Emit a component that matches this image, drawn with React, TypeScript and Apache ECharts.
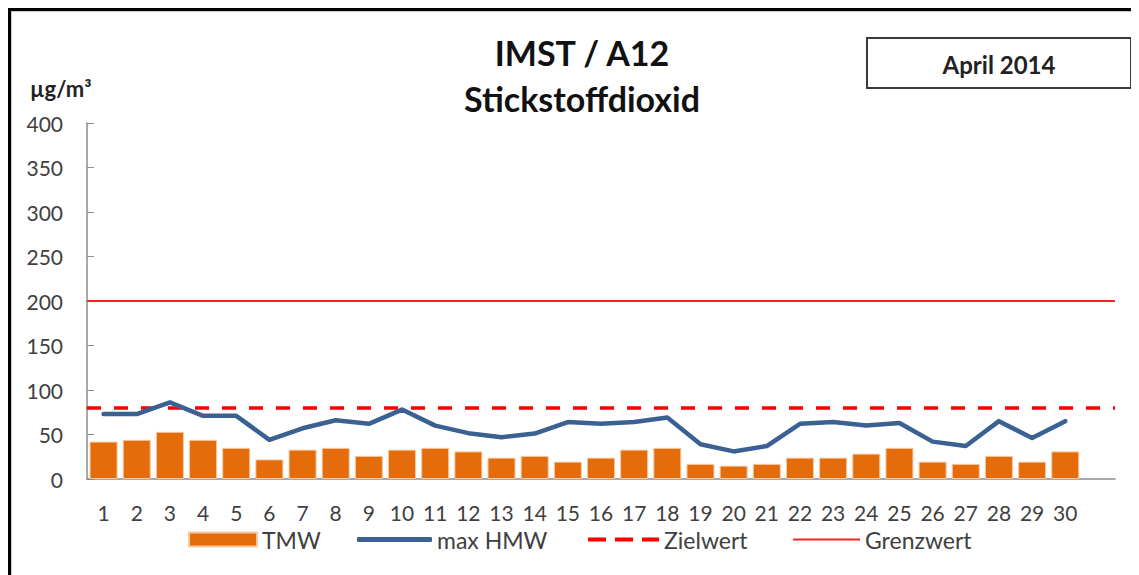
import React, { useEffect, useRef } from "react";
import * as echarts from "echarts";

const days: string[] = ["1","2","3","4","5","6","7","8","9","10","11","12","13","14","15","16","17","18","19","20","21","22","23","24","25","26","27","28","29","30",""];
const tmw: (number | null)[] = [42,44,53,44,35,22,33,35,26,33,35,31,24,26,19.5,24,33,35,17,15,17,24,24,28.5,35,19.5,17,26,19.5,31,null];
const maxHmw: (number | null)[] = [73,73,86,71,71,44,57,66,62,78,60,51.5,47,51,64,62,64,69,39,31,37,62,64,60,63,42,37,65,46,65,null];
const zielwert = 80;
const grenzwert = 200;
const yTicks = { min: 0, max: 400, interval: 50 };
const titleLines = ["IMST / A12", "Stickstoffdioxid"];
const unitLabel = "µg/m³";
const periodLabel = "April 2014";
const seriesNames = ["TMW", "max HMW", "Zielwert", "Grenzwert"];

const FONT = "Lato, 'Open Sans', sans-serif";
const TXT = "#404040";
const ORANGE = "#E46C0A";
const BLUE = "#3A6192";
const RED = "#FF0000";

function legendFor(name: string, left: number, itemWidth: number, itemHeight: number, icon: string) {
  return {
    data: [{ name, icon }],
    left,
    top: 516,
    padding: 0,
    itemWidth,
    itemHeight,
    selectedMode: false,
    textStyle: { fontFamily: FONT, fontSize: 23, lineHeight: 23, color: TXT },
  };
}

export default function App() {
  const ref = useRef<HTMLDivElement>(null);
  useEffect(() => {
    if (!ref.current) return;
    const chart = echarts.init(ref.current, undefined, { renderer: "svg" });
    chart.setOption({
      animation: false,
      backgroundColor: "#fff",
      textStyle: { fontFamily: FONT },
      title: [
        {
          text: titleLines[0],
          left: 565,
          top: 18,
          textAlign: "center",
          textStyle: { fontFamily: FONT, fontWeight: "bold", fontSize: 34, color: "#111" },
        },
        {
          text: titleLines[1],
          left: 565,
          top: 64,
          textAlign: "center",
          textStyle: { fontFamily: FONT, fontWeight: "bold", fontSize: 34, color: "#111" },
        },
        {
          text: unitLabel,
          left: 13,
          top: 60,
          textStyle: { fontFamily: FONT, fontWeight: "bold", fontSize: 22, color: "#222" },
        },
      ],
      graphic: [
        {
          type: "group",
          left: 854,
          top: 25,
          children: [
            {
              type: "rect",
              shape: { x: 0, y: 0, width: 264, height: 50 },
              style: { fill: "#fff", stroke: "#3a3a3a", lineWidth: 2 },
            },
            {
              type: "text",
              x: 132,
              y: 26,
              style: {
                text: periodLabel,
                align: "center",
                verticalAlign: "middle",
                font: `bold 24px ${FONT}`,
                fill: "#222",
              },
            },
          ],
        },
      ],
      legend: [
        legendFor(seriesNames[0], 176, 68, 14, "rect"),
        legendFor(seriesNames[1], 345, 75, 5, "roundRect"),
        legendFor(seriesNames[2], 576, 71, 4, "path://M0,0h18v4h-18z M27,0h18v4h-18z M54,0h17v4h-17z"),
        legendFor(seriesNames[3], 781, 67, 2, "rect"),
      ],
      grid: { left: 75, top: 111, right: 24, bottom: 96, containLabel: false },
      xAxis: {
        type: "category",
        data: days,
        boundaryGap: true,
        axisLine: { show: true, lineStyle: { color: "#8c8c8c", width: 1.5 } },
        axisTick: { show: false },
        axisLabel: { color: TXT, fontSize: 21, fontFamily: FONT, margin: 23, interval: 0 },
        splitLine: { show: false },
      },
      yAxis: {
        type: "value",
        min: yTicks.min,
        max: yTicks.max,
        interval: yTicks.interval,
        axisLine: { show: true, lineStyle: { color: "#8c8c8c", width: 1.5 } },
        axisTick: { show: true, inside: true, length: 7, lineStyle: { color: "#8c8c8c" } },
        axisLabel: { color: TXT, fontSize: 21, fontFamily: FONT, margin: 24 },
        splitLine: { show: false },
      },
      series: [
        {
          name: seriesNames[0],
          type: "bar",
          data: tmw,
          barWidth: 28,
          itemStyle: { color: ORANGE, borderColor: "#F7C9A3", borderWidth: 1 },
          z: 2,
        },
        {
          name: seriesNames[1],
          type: "line",
          data: maxHmw,
          symbol: "none",
          showSymbol: false,
          lineStyle: { color: BLUE, width: 4.5, cap: "round", join: "round" },
          itemStyle: { color: BLUE },
          z: 5,
        },
        {
          name: seriesNames[2],
          type: "line",
          data: [],
          symbol: "none",
          lineStyle: { color: RED, width: 3.5, type: [14, 13] },
          itemStyle: { color: RED },
          markLine: {
            silent: true,
            symbol: "none",
            label: { show: false },
            lineStyle: { color: RED, width: 3.5, type: [14, 13] },
            data: [{ yAxis: zielwert }],
          },
          z: 4,
        },
        {
          name: seriesNames[3],
          type: "line",
          data: [],
          symbol: "none",
          lineStyle: { color: "#FF2020", width: 1.8 },
          itemStyle: { color: "#FF2020" },
          markLine: {
            silent: true,
            symbol: "none",
            label: { show: false },
            lineStyle: { color: "#FF2020", width: 1.8, type: "solid" },
            data: [{ yAxis: grenzwert }],
          },
          z: 4,
        },
      ],
    });
    return () => chart.dispose();
  }, []);

  return (
    <div style={{ width: 1131, height: 567, borderTop: "3px solid #000", borderLeft: "3px solid #000", boxSizing: "border-box" }}>
      <div style={{ width: 1128, height: 564, borderTop: "1px solid #c8c8c8", borderLeft: "1px solid #c8c8c8", boxSizing: "border-box" }}>
        <div ref={ref} style={{ width: 1127, height: 563 }} />
      </div>
    </div>
  );
}
